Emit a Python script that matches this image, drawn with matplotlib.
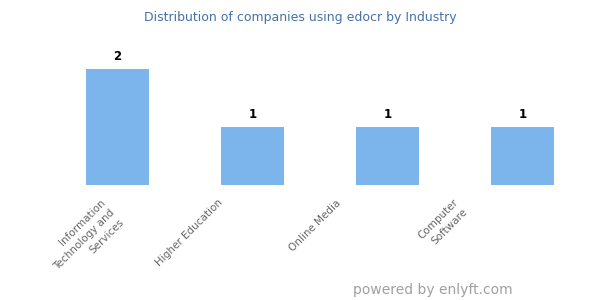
import matplotlib
matplotlib.use("Agg")
import matplotlib.pyplot as plt
import numpy as np

categories = ["Information\nTechnology and\nServices", "Higher Education", "Online Media", "Computer\nSoftware"]
values = [2, 1, 1, 1]

title = "Distribution of companies using edocr by Industry"
bar_color = "#7cb5ec"

fig = plt.figure(figsize=(6, 3), dpi=100)
ax = fig.add_axes([50/600, 1-185/300, 540/600, 145/300])

x = np.arange(len(categories))
ax.bar(x, values, width=0.474, color=bar_color)
ax.set_xlim(-0.5, len(categories)-0.5)
ax.set_ylim(0, 145/58)

for xi, v in zip(x, values):
    ax.annotate(str(v), (xi, v), xytext=(0, 4), textcoords="offset points",
                ha="center", va="bottom", fontsize=8.5, fontweight="bold", color="#000000")

# label anchors (Highcharts-like offset)
label_pos = x * 0.872 - 0.13
ax.set_xticks(label_pos)
ax.set_xticklabels(categories, rotation=45, ha="right", va="top",
                   rotation_mode="anchor", fontsize=7.5, color="#666666",
                   multialignment="right", linespacing=1.45)
ax.tick_params(axis="x", length=0, pad=9)
ax.set_yticks([])
for s in ax.spines.values():
    s.set_visible(False)

fig.text(0.5, 1-17/300, title, ha="center", va="center", fontsize=9, color="#4572a7")
fig.text(513/600, 1-290/300, "powered by enlyft.com", ha="right", va="center",
         fontsize=10, color="#a0a0a0")

fig.savefig("out.png", dpi=100)
